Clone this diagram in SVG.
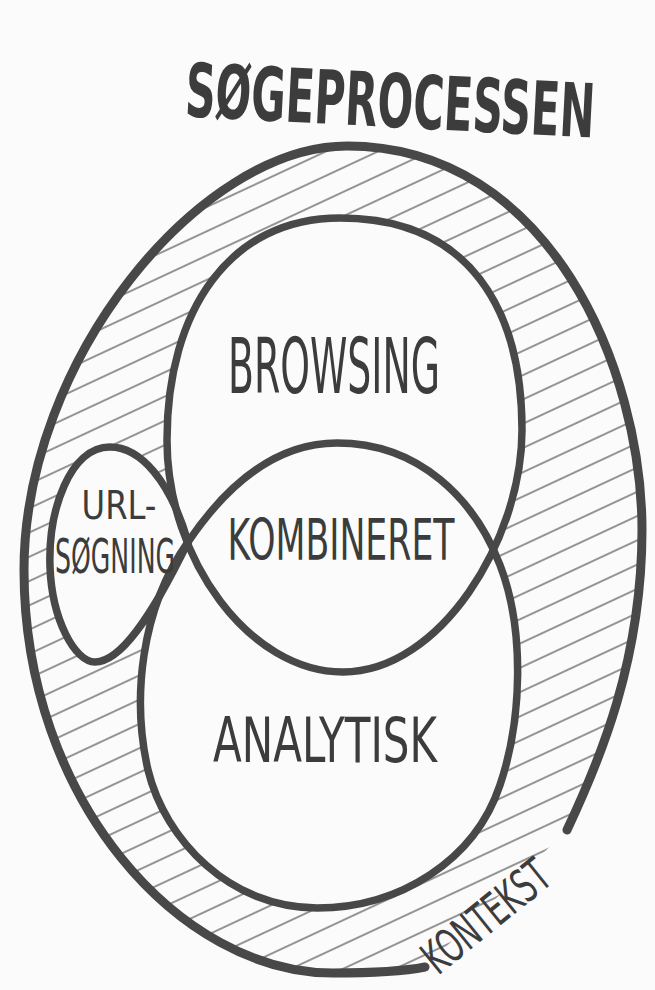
<svg xmlns="http://www.w3.org/2000/svg" width="655" height="990" viewBox="0 0 655 990">
<style>
.ln{fill:none;stroke:#484848;stroke-linecap:round;stroke-linejoin:round}
.o{stroke-width:9}
.i{stroke-width:7.5}
.wf{fill:#fbfbfb;stroke:none}
.t{font-family:"DejaVu Sans Condensed","Liberation Sans Narrow","Liberation Sans",sans-serif;fill:#3c3c3c}
</style>
<defs>
<pattern id="hatch" width="22" height="22" patternUnits="userSpaceOnUse" patternTransform="rotate(-25)">
<rect width="22" height="22" fill="#fbfbfb"/>
<line x1="-2" y1="11" x2="24" y2="11" stroke="#2e2e2e" stroke-width="1"/>
</pattern>
</defs>
<rect width="655" height="990" fill="#fbfbfb"/>
<g id="title">
<text class="t" x="0" y="0" font-size="46" font-weight="bold" text-anchor="middle" textLength="410" lengthAdjust="spacingAndGlyphs" transform="rotate(3 390 105) translate(390,127) scale(1,1.62)">SØGEPROCESSEN</text>
</g>
<g id="node-kontekst">
<path fill="url(#hatch)" d="M567,830 C600,760 642,660 642,530 C642,370 550,146 347,146 C200,146 24,360 24,570 C24,800 180,973 333,973 C380,973 410,970 425,967 Z"/>
</g>
<g id="fills">
<path class="wf" d="M340,218 C470,218 522,310 522,430 C522,540 440,672 343,672 C250,672 167,560 167,440 C167,310 230,218 340,218 Z"/>
<path class="wf" d="M337,443 C420,443 475,500 500,565 C525,630 522,720 500,785 C475,860 400,908 317,908 C230,908 165,840 148,770 C132,700 140,610 188,542 C230,480 280,443 337,443 Z"/>
<path class="wf" d="M188,542 C170,480 140,447 110,447 C70,447 48,510 50,567 C52,620 75,662 95,662 C120,662 150,620 188,542 Z"/>
</g>
<g id="outlines">
<path class="ln o" d="M567,830 C600,760 642,660 642,530 C642,370 550,146 347,146 C200,146 24,360 24,570 C24,800 180,973 333,973 C380,973 410,970 425,967"/>
<path id="browsing-ring" class="ln i" d="M340,218 C470,218 522,310 522,430 C522,540 440,672 343,672 C250,672 167,560 167,440 C167,310 230,218 340,218 Z"/>
<path id="analytisk-ring" class="ln i" d="M337,443 C420,443 475,500 500,565 C525,630 522,720 500,785 C475,860 400,908 317,908 C230,908 165,840 148,770 C132,700 140,610 188,542 C230,480 280,443 337,443 Z"/>
<path id="url-ring" class="ln i" d="M188,542 C170,480 140,447 110,447 C70,447 48,510 50,567 C52,620 75,662 95,662 C120,662 150,620 188,542"/>
</g>
<g id="node-browsing">
<text class="t" x="0" y="0" font-size="44" text-anchor="middle" textLength="212" lengthAdjust="spacingAndGlyphs" transform="translate(334,393) scale(1,1.75)">BROWSING</text>
</g>
<g id="node-kombineret">
<text class="t" x="0" y="0" font-size="37" text-anchor="middle" textLength="227" lengthAdjust="spacingAndGlyphs" transform="translate(341,560) scale(1,1.55)">KOMBINERET</text>
</g>
<g id="node-analytisk">
<text class="t" x="0" y="0" font-size="41" text-anchor="middle" textLength="224" lengthAdjust="spacingAndGlyphs" transform="translate(325,762) scale(1,1.5)">ANALYTISK</text>
</g>
<g id="node-url">
<text class="t" x="0" y="0" font-size="33" text-anchor="middle" textLength="75" lengthAdjust="spacingAndGlyphs" transform="translate(119,519) scale(1,1.2)">URL-</text>
<text class="t" x="0" y="0" font-size="28.5" text-anchor="middle" textLength="120" lengthAdjust="spacingAndGlyphs" transform="translate(115,573) scale(1,1.68)">SØGNING</text>
</g>
<g id="label-kontekst">
<text class="t" x="0" y="0" font-size="31" textLength="150" lengthAdjust="spacingAndGlyphs" transform="translate(438,976) rotate(-39) scale(1,1.5)">KONTEKST</text>
</g>
</svg>
